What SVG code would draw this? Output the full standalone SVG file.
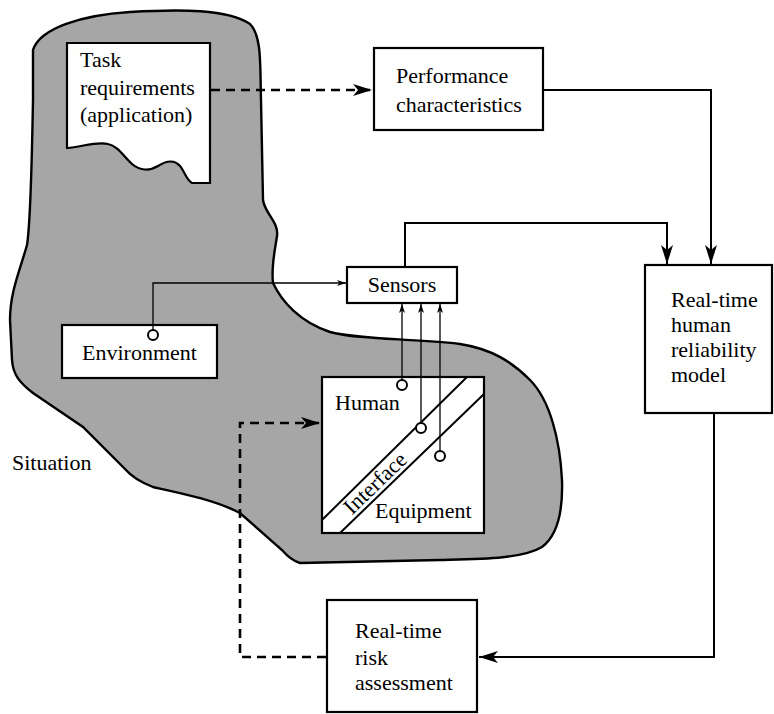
<svg xmlns="http://www.w3.org/2000/svg" width="774" height="714" viewBox="0 0 774 714">
<style>
.box{fill:#fff;stroke:#000;stroke-width:2.2}
.t{font-family:"Liberation Serif","Times New Roman",serif;font-size:22px;fill:#000}
.c{fill:none;stroke:#000;stroke-width:2}
.thin{fill:none;stroke:#000;stroke-width:1.3}
.dash{fill:none;stroke:#000;stroke-width:2.6;stroke-dasharray:9 6}
.dot{fill:#fff;stroke:#000;stroke-width:2}
</style>
<defs>
<marker id="big" markerUnits="userSpaceOnUse" markerWidth="20" markerHeight="14" refX="19" refY="6" orient="auto">
<path d="M0,0 L19,6 L0,12 L5,6 Z" fill="#000"/>
</marker>
<marker id="small" markerUnits="userSpaceOnUse" markerWidth="10" markerHeight="8" refX="9" refY="3" orient="auto">
<path d="M0,0 L9,3 L0,6 L2.5,3 Z" fill="#000"/>
</marker>
</defs>

<g id="situation">
<path d="M33,50 C40,28 82,15 130,12 C180,9 228,9 250,24 C262,36 260,65 261,100 L263,200 C265,214 279,222 277,236 C275,250 271,266 273,283 C282,302 300,322 330,332 C360,340 420,339 460,344 C492,349 512,362 530,380 C550,400 560,440 562,480 C563,510 558,535 542,547 C522,559 480,559 440,560 L300,563 C293,561 288,557 282,550 L240,513 C215,500 180,493 153,487 C140,482 131,476 125,469 L83,427 L33,393 C20,383 13,375 12,360 L10,320 C10,292 20,270 27,245 C31,220 32,150 33,100 Z" fill="#a6a6a6" stroke="#000" stroke-width="2.4"/>
<text class="t" x="12" y="470">Situation</text>
</g>

<g id="task">
<path d="M67,43 L210,43 L210,183 L192,183 C186,180 184,170 180,166 C175,160 167,160 158,166 C150,171 140,171 132,164 C124,157 118,146 108,144 C96,141 82,147 67,148 Z" class="box"/>
<text class="t" x="80" y="67">Task</text>
<text class="t" x="80" y="95">requirements</text>
<text class="t" x="80" y="122">(application)</text>
</g>

<g id="performance">
<rect class="box" x="374" y="48" width="169" height="82"/>
<text class="t" x="396" y="83">Performance</text>
<text class="t" x="396" y="112">characteristics</text>
</g>

<g id="sensors">
<rect class="box" x="347" y="267" width="110" height="36"/>
<text class="t" x="402" y="292" text-anchor="middle">Sensors</text>
</g>

<g id="environment">
<rect class="box" x="62" y="325" width="155" height="53"/>
<text class="t" x="82" y="360">Environment</text>
<circle class="dot" cx="153" cy="335" r="5"/>
</g>

<g id="human-equipment">
<rect class="box" x="322" y="377" width="162" height="156"/>
<line x1="322" y1="520" x2="467" y2="377" stroke="#000" stroke-width="2"/>
<line x1="340" y1="533" x2="484" y2="394" stroke="#000" stroke-width="2"/>
<text class="t" x="335" y="410">Human</text>
<text class="t" x="375" y="518">Equipment</text>
<text class="t" x="0" y="6" text-anchor="middle" transform="translate(376,484) rotate(-44)">Interface</text>
<circle class="dot" cx="402" cy="385" r="5"/>
<circle class="dot" cx="421" cy="428" r="5"/>
<circle class="dot" cx="440" cy="456" r="5"/>
</g>

<g id="model">
<rect class="box" x="645" y="265" width="127" height="148"/>
<text class="t" x="671" y="307">Real-time</text>
<text class="t" x="671" y="332">human</text>
<text class="t" x="671" y="357">reliability</text>
<text class="t" x="671" y="382">model</text>
</g>

<g id="risk">
<rect class="box" x="327" y="600" width="150" height="112"/>
<text class="t" x="355" y="638">Real-time</text>
<text class="t" x="355" y="665">risk</text>
<text class="t" x="355" y="690">assessment</text>
</g>

<g id="connectors">
<path class="dash" d="M211,90 L372,90" marker-end="url(#big)"/>
<path class="c" d="M543,90 L711,90 L711,264" marker-end="url(#big)"/>
<path class="c" d="M405,267 L405,223 L667,223 L667,264" marker-end="url(#big)"/>
<path class="thin" d="M153,330 L153,283 L346,283" marker-end="url(#small)"/>
<path class="thin" d="M402,380 L402,304" marker-end="url(#small)"/>
<path class="thin" d="M421,423 L421,304" marker-end="url(#small)"/>
<path class="thin" d="M440,451 L440,304" marker-end="url(#small)"/>
<path class="c" d="M714,413 L714,657 L479,657" marker-end="url(#big)"/>
<path class="dash" d="M326,657 L240,657 L240,423 L320,423" marker-end="url(#big)"/>
</g>
</svg>
